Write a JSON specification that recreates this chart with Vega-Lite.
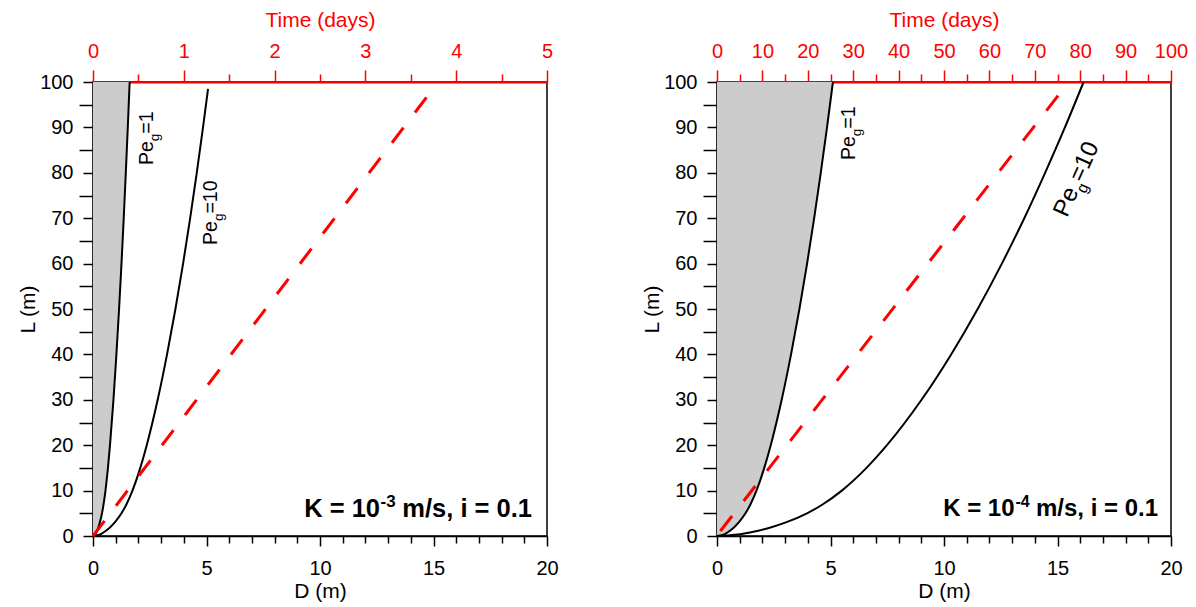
{
  "$schema": "https://vega.github.io/schema/vega-lite/v6.json",
  "padding": {"left": 16, "top": 8, "right": 5, "bottom": 5},
  "background": "white",
  "config": {
    "font": "Liberation Sans",
    "view": {"stroke": "black", "strokeWidth": 1.5},
    "axis": {
      "grid": false,
      "labelFont": "Liberation Sans",
      "labelFontSize": 20,
      "labelColor": "black",
      "titleFont": "Liberation Sans",
      "titleFontSize": 21,
      "titleFontWeight": "normal",
      "titleColor": "black",
      "domainColor": "black",
      "domainWidth": 1.5,
      "tickColor": "black",
      "tickWidth": 1.5,
      "labelFlush": false,
      "labelOverlap": false
    }
  },
  "datasets": {
    "curvesA": [
      {"c": "Pe1", "L": 0, "D": 0}, {"c": "Pe1", "L": 0.25, "D": 0.0807}, {"c": "Pe1", "L": 0.6, "D": 0.1263}, {"c": "Pe1", "L": 1, "D": 0.1657},
      {"c": "Pe1", "L": 2, "D": 0.243}, {"c": "Pe1", "L": 3, "D": 0.3036}, {"c": "Pe1", "L": 5, "D": 0.3965}, {"c": "Pe1", "L": 7, "D": 0.4667},
      {"c": "Pe1", "L": 10, "D": 0.5499}, {"c": "Pe1", "L": 15, "D": 0.6586}, {"c": "Pe1", "L": 20, "D": 0.7486}, {"c": "Pe1", "L": 30, "D": 0.901},
      {"c": "Pe1", "L": 40, "D": 1.0315}, {"c": "Pe1", "L": 50, "D": 1.1483}, {"c": "Pe1", "L": 60, "D": 1.2549}, {"c": "Pe1", "L": 70, "D": 1.3537},
      {"c": "Pe1", "L": 80, "D": 1.4454}, {"c": "Pe1", "L": 90, "D": 1.5326}, {"c": "Pe1", "L": 100, "D": 1.615},
      {"c": "Pe10", "L": 0, "D": 0}, {"c": "Pe10", "L": 0.25, "D": 0.2552}, {"c": "Pe10", "L": 0.6, "D": 0.3994}, {"c": "Pe10", "L": 1, "D": 0.524},
      {"c": "Pe10", "L": 2, "D": 0.7684}, {"c": "Pe10", "L": 3, "D": 0.96}, {"c": "Pe10", "L": 5, "D": 1.2539}, {"c": "Pe10", "L": 7, "D": 1.4758},
      {"c": "Pe10", "L": 10, "D": 1.7389}, {"c": "Pe10", "L": 15, "D": 2.0827}, {"c": "Pe10", "L": 20, "D": 2.3673}, {"c": "Pe10", "L": 30, "D": 2.8492},
      {"c": "Pe10", "L": 40, "D": 3.2619}, {"c": "Pe10", "L": 50, "D": 3.6313}, {"c": "Pe10", "L": 60, "D": 3.9683}, {"c": "Pe10", "L": 70, "D": 4.2808},
      {"c": "Pe10", "L": 80, "D": 4.5708}, {"c": "Pe10", "L": 90, "D": 4.8465}, {"c": "Pe10", "L": 98.5, "D": 5.068}
    ],
    "curvesB": [
      {"c": "Pe1", "L": 0, "D": 0}, {"c": "Pe1", "L": 0.25, "D": 0.2552}, {"c": "Pe1", "L": 0.6, "D": 0.3994}, {"c": "Pe1", "L": 1, "D": 0.524},
      {"c": "Pe1", "L": 2, "D": 0.7684}, {"c": "Pe1", "L": 3, "D": 0.96}, {"c": "Pe1", "L": 5, "D": 1.2539}, {"c": "Pe1", "L": 7, "D": 1.4758},
      {"c": "Pe1", "L": 10, "D": 1.7389}, {"c": "Pe1", "L": 15, "D": 2.0827}, {"c": "Pe1", "L": 20, "D": 2.3673}, {"c": "Pe1", "L": 30, "D": 2.8492},
      {"c": "Pe1", "L": 40, "D": 3.2619}, {"c": "Pe1", "L": 50, "D": 3.6313}, {"c": "Pe1", "L": 60, "D": 3.9683}, {"c": "Pe1", "L": 70, "D": 4.2808},
      {"c": "Pe1", "L": 80, "D": 4.5708}, {"c": "Pe1", "L": 90, "D": 4.8465}, {"c": "Pe1", "L": 100, "D": 5.107},
      {"c": "Pe10", "L": 0, "D": 0}, {"c": "Pe10", "L": 0.25, "D": 0.807}, {"c": "Pe10", "L": 0.6, "D": 1.263}, {"c": "Pe10", "L": 1, "D": 1.657},
      {"c": "Pe10", "L": 2, "D": 2.43}, {"c": "Pe10", "L": 3, "D": 3.036}, {"c": "Pe10", "L": 5, "D": 3.965}, {"c": "Pe10", "L": 7, "D": 4.667},
      {"c": "Pe10", "L": 10, "D": 5.499}, {"c": "Pe10", "L": 15, "D": 6.586}, {"c": "Pe10", "L": 20, "D": 7.486}, {"c": "Pe10", "L": 30, "D": 9.01},
      {"c": "Pe10", "L": 40, "D": 10.315}, {"c": "Pe10", "L": 50, "D": 11.483}, {"c": "Pe10", "L": 60, "D": 12.549}, {"c": "Pe10", "L": 70, "D": 13.537},
      {"c": "Pe10", "L": 80, "D": 14.454}, {"c": "Pe10", "L": 90, "D": 15.326}, {"c": "Pe10", "L": 100, "D": 16.15}
    ],
    "dashA": [{"t": 0, "L": 0}, {"t": 3.71, "L": 97.6}],
    "dashB": [{"t": 0.75, "L": 1.1}, {"t": 75.9, "L": 98}],
    "labA": [
      {"D": 2.64, "L": 81.7, "pe": "Pe", "sub": "g", "eq": "=1"},
      {"D": 5.46, "L": 64.1, "pe": "Pe", "sub": "g", "eq": "=10"}
    ],
    "labB1": [{"D": 6.08, "L": 82.8, "pe": "Pe", "sub": "g", "eq": "=1"}],
    "labB2": [{"D": 15.42, "L": 70.0, "pe": "Pe", "sub": "g", "eq": "=10"}],
    "annA": [{"D": 19.34, "L": 4.2, "a": "K = 10", "s": "-3", "b": "m/s, i = 0.1"}],
    "annB": [{"D": 19.43, "L": 4.4, "a": "K = 10", "s": "-4", "b": "m/s, i = 0.1"}]
  },
  "hconcat": [
    {
      "width": 454,
      "height": 454,
      "layer": [
        {
          "encoding": {
            "x": {"field": "D", "type": "quantitative", "scale": {"domain": [0, 20], "nice": false},
              "axis": {"title": "D (m)", "values": [0, 5, 10, 15, 20], "tickSize": 10, "labelPadding": 12, "titlePadding": 2}},
            "y": {"field": "L", "type": "quantitative", "scale": {"domain": [0, 100], "nice": false},
              "axis": {"title": "L (m)", "orient": "left", "values": [0,10,20,30,40,50,60,70,80,90,100], "tickSize": 10, "labelPadding": 10, "titlePadding": 1}}
          },
          "layer": [
            {"data": {"name": "curvesA"}, "transform": [{"filter": "datum.c === 'Pe1'"}],
              "mark": {"type": "area", "orient": "horizontal", "color": "#cccccc", "interpolate": "monotone"}},
            {"data": {"name": "curvesA"},
              "mark": {"type": "line", "color": "black", "strokeWidth": 2, "interpolate": "monotone"},
              "encoding": {"detail": {"field": "c"}}},
            {"data": {"name": "labA"}, "mark": {"type": "text", "angle": -90, "align": "left", "baseline": "alphabetic", "fontSize": 19.5, "color": "black"},
              "encoding": {"text": {"field": "pe"}}},
            {"data": {"name": "labA"}, "mark": {"type": "text", "angle": -90, "align": "left", "baseline": "alphabetic", "fontSize": 13.5, "dx": 23.9, "dy": 6, "color": "black"},
              "encoding": {"text": {"field": "sub"}}},
            {"data": {"name": "labA"}, "mark": {"type": "text", "angle": -90, "align": "left", "baseline": "alphabetic", "fontSize": 19.5, "dx": 31.4, "color": "black"},
              "encoding": {"text": {"field": "eq"}}},
            {"data": {"name": "annA"}, "mark": {"type": "text", "align": "right", "baseline": "alphabetic", "fontSize": 25.5, "fontWeight": "bold", "color": "black"},
              "encoding": {"text": {"field": "b"}}},
            {"data": {"name": "annA"}, "mark": {"type": "text", "align": "right", "baseline": "alphabetic", "fontSize": 17, "fontWeight": "bold", "dx": -136.3, "dy": -10, "color": "black"},
              "encoding": {"text": {"field": "s"}}},
            {"data": {"name": "annA"}, "mark": {"type": "text", "align": "right", "baseline": "alphabetic", "fontSize": 25.5, "fontWeight": "bold", "dx": -152, "color": "black"},
              "encoding": {"text": {"field": "a"}}}
          ]
        },
        {
          "data": {"name": "dashA"},
          "mark": {"type": "line", "color": "#ff0000", "strokeWidth": 3, "strokeDash": [19, 19]},
          "encoding": {
            "x": {"field": "t", "type": "quantitative", "scale": {"domain": [0, 5], "nice": false},
              "axis": {"orient": "top", "title": "Time (days)", "values": [0, 1, 2, 3, 4, 5], "tickSize": 12, "labelPadding": 9, "titlePadding": 11,
                "domainColor": "#ff0000", "domainWidth": 2, "tickColor": "#ff0000", "labelColor": "#ff0000", "titleColor": "#ff0000"}},
            "y": {"field": "L", "type": "quantitative", "scale": {"domain": [0, 100], "nice": false}, "axis": null}
          }
        },
        {
          "data": {"name": "curvesA"},
          "mark": {"type": "point", "opacity": 0},
          "encoding": {
            "x": {"field": "D", "type": "quantitative", "scale": {"domain": [0, 20], "nice": false},
              "axis": {"orient": "bottom", "title": null, "labels": false, "domain": false, "tickSize": 7,
                "values": [1,2,3,4,6,7,8,9,11,12,13,14,16,17,18,19]}},
            "y": {"field": "L", "type": "quantitative", "scale": {"domain": [0, 100], "nice": false},
              "axis": {"orient": "left", "title": null, "labels": false, "domain": false, "tickSize": 14,
                "values": [5,15,25,35,45,55,65,75,85,95]}}
          }
        },
        {
          "data": {"name": "dashA"},
          "mark": {"type": "point", "opacity": 0},
          "encoding": {
            "x": {"field": "t", "type": "quantitative", "scale": {"domain": [0, 5], "nice": false},
              "axis": {"orient": "top", "title": null, "labels": false, "domain": false, "tickSize": 8, "tickColor": "#ff0000",
                "values": [0.5, 1.5, 2.5, 3.5, 4.5]}},
            "y": {"field": "L", "type": "quantitative", "scale": {"domain": [0, 100], "nice": false}, "axis": null}
          }
        }
      ],
      "resolve": {"scale": {"x": "independent"}, "axis": {"x": "independent", "y": "independent"}}
    },
    {
      "width": 454,
      "height": 454,
      "layer": [
        {
          "encoding": {
            "x": {"field": "D", "type": "quantitative", "scale": {"domain": [0, 20], "nice": false},
              "axis": {"title": "D (m)", "values": [0, 5, 10, 15, 20], "tickSize": 10, "labelPadding": 12, "titlePadding": 2}},
            "y": {"field": "L", "type": "quantitative", "scale": {"domain": [0, 100], "nice": false},
              "axis": {"title": "L (m)", "orient": "left", "values": [0,10,20,30,40,50,60,70,80,90,100], "tickSize": 10, "labelPadding": 10, "titlePadding": 1}}
          },
          "layer": [
            {"data": {"name": "curvesB"}, "transform": [{"filter": "datum.c === 'Pe1'"}],
              "mark": {"type": "area", "orient": "horizontal", "color": "#cccccc", "interpolate": "monotone"}},
            {"data": {"name": "curvesB"},
              "mark": {"type": "line", "color": "black", "strokeWidth": 2, "interpolate": "monotone"},
              "encoding": {"detail": {"field": "c"}}},
            {"data": {"name": "labB1"}, "mark": {"type": "text", "angle": -90, "align": "left", "baseline": "alphabetic", "fontSize": 19.5, "color": "black"},
              "encoding": {"text": {"field": "pe"}}},
            {"data": {"name": "labB1"}, "mark": {"type": "text", "angle": -90, "align": "left", "baseline": "alphabetic", "fontSize": 13.5, "dx": 23.9, "dy": 6, "color": "black"},
              "encoding": {"text": {"field": "sub"}}},
            {"data": {"name": "labB1"}, "mark": {"type": "text", "angle": -90, "align": "left", "baseline": "alphabetic", "fontSize": 19.5, "dx": 31.4, "color": "black"},
              "encoding": {"text": {"field": "eq"}}},
            {"data": {"name": "labB2"}, "mark": {"type": "text", "angle": -66, "align": "left", "baseline": "alphabetic", "fontSize": 24, "color": "black"},
              "encoding": {"text": {"field": "pe"}}},
            {"data": {"name": "labB2"}, "mark": {"type": "text", "angle": -66, "align": "left", "baseline": "alphabetic", "fontSize": 16, "dx": 29.4, "dy": 7, "color": "black"},
              "encoding": {"text": {"field": "sub"}}},
            {"data": {"name": "labB2"}, "mark": {"type": "text", "angle": -66, "align": "left", "baseline": "alphabetic", "fontSize": 24, "dx": 38.3, "color": "black"},
              "encoding": {"text": {"field": "eq"}}},
            {"data": {"name": "annB"}, "mark": {"type": "text", "align": "right", "baseline": "alphabetic", "fontSize": 24, "fontWeight": "bold", "color": "black"},
              "encoding": {"text": {"field": "b"}}},
            {"data": {"name": "annB"}, "mark": {"type": "text", "align": "right", "baseline": "alphabetic", "fontSize": 16, "fontWeight": "bold", "dx": -128.3, "dy": -9, "color": "black"},
              "encoding": {"text": {"field": "s"}}},
            {"data": {"name": "annB"}, "mark": {"type": "text", "align": "right", "baseline": "alphabetic", "fontSize": 24, "fontWeight": "bold", "dx": -143.5, "color": "black"},
              "encoding": {"text": {"field": "a"}}}
          ]
        },
        {
          "data": {"name": "dashB"},
          "mark": {"type": "line", "color": "#ff0000", "strokeWidth": 3, "strokeDash": [19, 19]},
          "encoding": {
            "x": {"field": "t", "type": "quantitative", "scale": {"domain": [0, 100], "nice": false},
              "axis": {"orient": "top", "title": "Time (days)", "values": [0,10,20,30,40,50,60,70,80,90,100], "tickSize": 12, "labelPadding": 9, "titlePadding": 11,
                "domainColor": "#ff0000", "domainWidth": 2, "tickColor": "#ff0000", "labelColor": "#ff0000", "titleColor": "#ff0000"}},
            "y": {"field": "L", "type": "quantitative", "scale": {"domain": [0, 100], "nice": false}, "axis": null}
          }
        },
        {
          "data": {"name": "curvesB"},
          "mark": {"type": "point", "opacity": 0},
          "encoding": {
            "x": {"field": "D", "type": "quantitative", "scale": {"domain": [0, 20], "nice": false},
              "axis": {"orient": "bottom", "title": null, "labels": false, "domain": false, "tickSize": 7,
                "values": [1,2,3,4,6,7,8,9,11,12,13,14,16,17,18,19]}},
            "y": {"field": "L", "type": "quantitative", "scale": {"domain": [0, 100], "nice": false},
              "axis": {"orient": "left", "title": null, "labels": false, "domain": false, "tickSize": 14,
                "values": [5,15,25,35,45,55,65,75,85,95]}}
          }
        },
        {
          "data": {"name": "dashB"},
          "mark": {"type": "point", "opacity": 0},
          "encoding": {
            "x": {"field": "t", "type": "quantitative", "scale": {"domain": [0, 100], "nice": false},
              "axis": {"orient": "top", "title": null, "labels": false, "domain": false, "tickSize": 8, "tickColor": "#ff0000",
                "values": [5,15,25,35,45,55,65,75,85,95]}},
            "y": {"field": "L", "type": "quantitative", "scale": {"domain": [0, 100], "nice": false}, "axis": null}
          }
        }
      ],
      "resolve": {"scale": {"x": "independent"}, "axis": {"x": "independent", "y": "independent"}}
    }
  ],
  "spacing": 170,
  "bounds": "flush"
}
